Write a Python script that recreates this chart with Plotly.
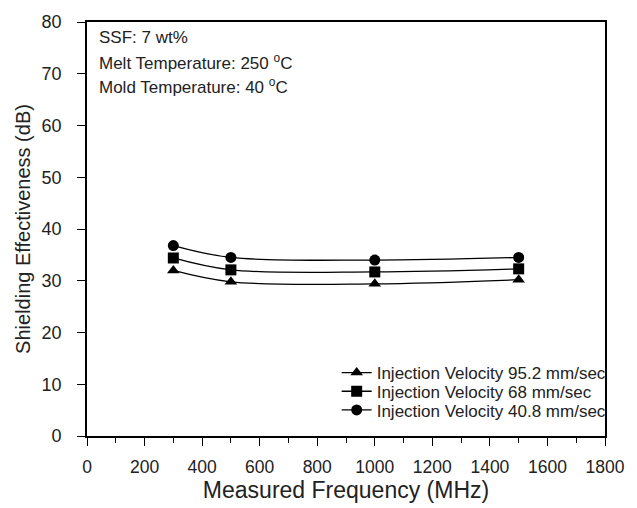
import plotly.graph_objects as go

freq = [300, 500, 1000, 1500]
se_952 = [32.0, 29.8, 29.4, 30.2]
se_68 = [34.4, 32.1, 31.7, 32.3]
se_408 = [36.8, 34.5, 34.0, 34.5]
names = ["Injection Velocity 95.2 mm/sec", "Injection Velocity 68 mm/sec", "Injection Velocity 40.8 mm/sec"]
symbols = ["triangle-up", "square", "circle"]
legend_ids = ["legend", "legend2", "legend3"]
info_lines = ["SSF: 7 wt%", "Melt Temperature: 250 <sup>o</sup>C", "Mold Temperature: 40 <sup>o</sup>C"]

font = "Liberation Sans, Arial, sans-serif"
fig = go.Figure()
for ys, nm, sym, lg in zip([se_952, se_68, se_408], names, symbols, legend_ids):
    fig.add_trace(go.Scatter(
        x=freq, y=ys, name=nm, mode="lines+markers", legend=lg,
        line=dict(color="black", width=1.3, shape="spline", smoothing=1.0),
        marker=dict(symbol=sym, size=11, color="black"),
    ))

leg_common = dict(xanchor="left", yanchor="middle", x=0.482,
                  font=dict(size=17, family=font, color="#222"),
                  bgcolor="rgba(0,0,0,0)", itemwidth=30)
fig.update_layout(
    width=637, height=508,
    margin=dict(l=87, r=20, t=13, b=72),
    plot_bgcolor="white", paper_bgcolor="white",
    font=dict(family=font, color="black"),
    showlegend=True,
    legend=dict(y=0.152, **leg_common),
    legend2=dict(y=0.107, **leg_common),
    legend3=dict(y=0.062, **leg_common),
    xaxis=dict(range=[0, 1800], tickvals=[0, 200, 400, 600, 800, 1000, 1200, 1400, 1600, 1800],
               ticks="outside", ticklen=8, tickwidth=1, tickcolor="black", ticklabelstandoff=6,
               ticklabeloverflow="allow",
               minor=dict(tickvals=[100, 300, 500, 700, 900, 1100, 1300, 1500, 1700], ticks="outside", ticklen=5, tickcolor="black"),
               showline=True, linecolor="black", linewidth=1.6, mirror=True, showgrid=False, zeroline=False,
               tickfont=dict(size=17.5, color="#222"),
               title=dict(text="Measured Frequency (MHz)", font=dict(size=23, color="#222"), standoff=3)),
    yaxis=dict(range=[0, 80], dtick=10, ticks="outside", ticklen=8, tickwidth=1, tickcolor="black",
               ticklabelstandoff=12,
               showline=True, linecolor="black", linewidth=1.6, mirror=True, showgrid=False, zeroline=False,
               tickfont=dict(size=18, color="#222"),
               title=dict(text="Shielding Effectiveness (dB)", font=dict(size=20, color="#222"), standoff=6)),
)

for txt, yy in zip(info_lines, [0.962, 0.903, 0.846]):
    fig.add_annotation(xref="paper", yref="paper", x=0.02, y=yy, xanchor="left", yanchor="middle",
                       showarrow=False, align="left", font=dict(size=17, family=font, color="#222"),
                       text=txt)

fig.write_html("out.html")
